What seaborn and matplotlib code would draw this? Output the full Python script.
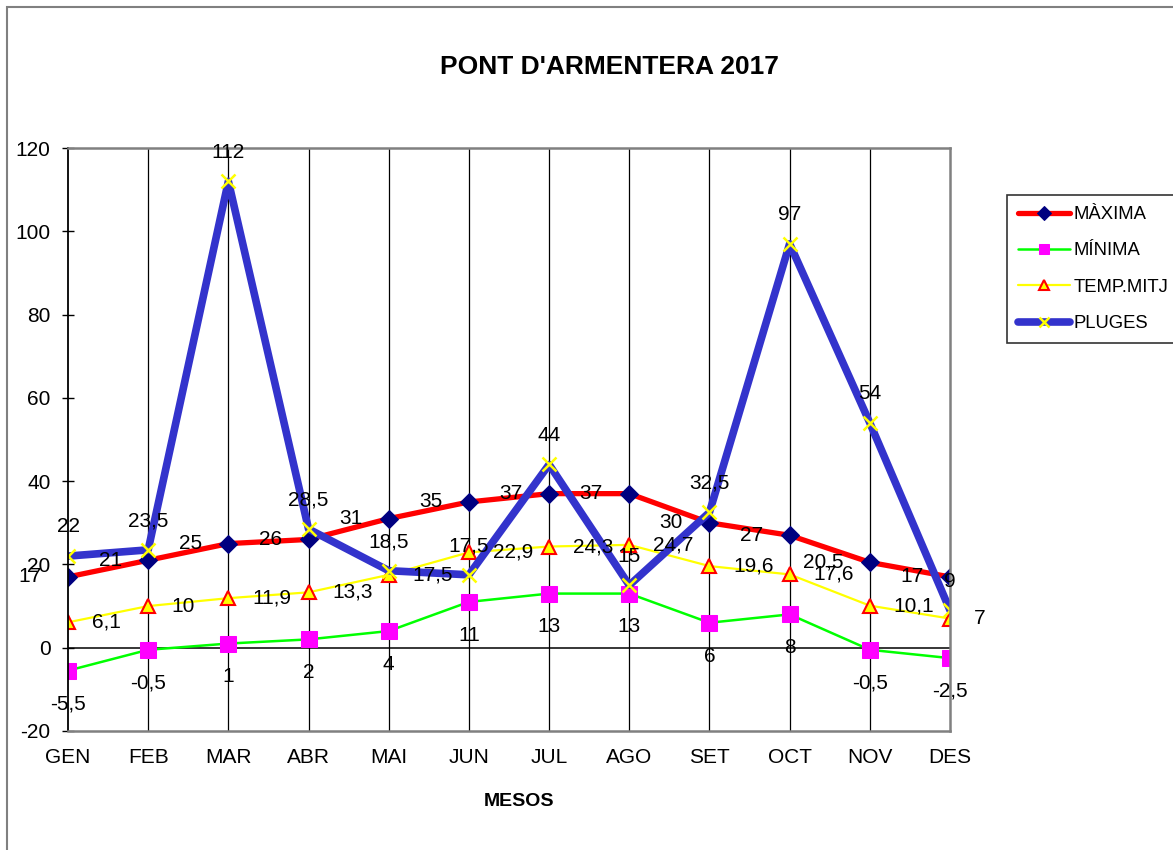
import pandas as pd
import matplotlib
matplotlib.use('Agg')
import matplotlib.pyplot as plt
import seaborn as sns
from matplotlib.patches import Rectangle

# Month labels and series values
mesos = ['GEN', 'FEB', 'MAR', 'ABR', 'MAI', 'JUN', 'JUL', 'AGO', 'SET', 'OCT', 'NOV', 'DES']
maxima = [17, 21, 25, 26, 31, 35, 37, 37, 30, 27, 20.5, 17]
minima = [-5.5, -0.5, 1, 2, 4, 11, 13, 13, 6, 8, -0.5, -2.5]
temp_mitj = [6.1, 10, 11.9, 13.3, 17.5, 22.9, 24.3, 24.7, 19.6, 17.6, 10.1, 7]
pluges = [22, 23.5, 112, 28.5, 18.5, 17.5, 44, 15, 32.5, 97, 54, 9]


def fmt(v):
    # Catalan decimal comma
    s = ('%g' % v)
    return s.replace('.', ',')


def main():
    sns.set_style('white')
    plt.rcParams['font.family'] = ['Liberation Sans', 'DejaVu Sans']
    plt.rcParams['axes.unicode_minus'] = False
    plt.rcParams['text.color'] = 'black'

    W, H = 1173, 850
    fig = plt.figure(figsize=(W / 100, H / 100), dpi=100)
    ax = fig.add_axes([68 / W, 1 - 731 / H, (950 - 68) / W, (731 - 148) / H])

    df = pd.DataFrame({'pos': range(len(mesos)), 'mes': mesos,
                       'maxima': maxima, 'minima': minima,
                       'temp': temp_mitj, 'pluges': pluges})

    # Lines
    sns.lineplot(data=df, x='pos', y='maxima', ax=ax, color='#FF0000', linewidth=3.8,
                 marker='D', markersize=9.5, markerfacecolor='#000080',
                 markeredgecolor='#000080', label='MÀXIMA')
    sns.lineplot(data=df, x='pos', y='minima', ax=ax, color='#00FF00', linewidth=1.8,
                 marker='s', markersize=11, markerfacecolor='#FF00FF',
                 markeredgecolor='#FF00FF', label='MÍNIMA')
    sns.lineplot(data=df, x='pos', y='temp', ax=ax, color='#FFFF00', linewidth=1.6,
                 marker='^', markersize=10, markerfacecolor='#FFFF00',
                 markeredgecolor='#FF0000', markeredgewidth=1.5, label='TEMP.MITJ')
    sns.lineplot(data=df, x='pos', y='pluges', ax=ax, color='#3333CC', linewidth=5.5,
                 marker='x', markersize=10, markeredgecolor='#FFFF00',
                 markeredgewidth=1.8, label='PLUGES')

    # Data labels
    lab_kw = dict(textcoords='offset points', fontsize=15, color='black', zorder=10)
    for i in df['pos']:
        ax.annotate(fmt(maxima[i]), (i, maxima[i]), xytext=(-19, 0), ha='right', va='center', **lab_kw)
        ax.annotate(fmt(minima[i]), (i, minima[i]), xytext=(0, -24), ha='center', va='center', **lab_kw)
        ax.annotate(fmt(temp_mitj[i]), (i, temp_mitj[i]), xytext=(17, 0), ha='left', va='center', **lab_kw)
        ax.annotate(fmt(pluges[i]), (i, pluges[i]), xytext=(0, 21), ha='center', va='center', **lab_kw)

    # Axes
    ax.set_xlim(0, 11)
    ax.set_ylim(-20, 120)
    ax.set_xticks(range(len(mesos)))
    ax.set_xticklabels(mesos)
    ax.set_yticks(range(-20, 121, 20))
    ax.tick_params(axis='x', length=0, pad=12.5, labelsize=15, colors='black')
    ax.tick_params(axis='y', direction='inout', length=9, width=1, pad=8,
                   labelsize=15, colors='black', left=True)
    ax.set_xlabel('')
    ax.set_ylabel('')
    ax.grid(False)
    for x in range(1, 11):
        ax.axvline(x, color='black', linewidth=0.9, zorder=0.5)
    ax.axhline(0, color='black', linewidth=1.1, zorder=0.6)

    for side in ['top', 'right', 'bottom']:
        ax.spines[side].set_color('#808080')
        ax.spines[side].set_linewidth(1.8)
    ax.spines['left'].set_color('black')
    ax.spines['left'].set_linewidth(1.3)

    ax.get_legend().remove()
    handles, labels = ax.get_legend_handles_labels()
    leg = fig.legend(handles, labels, loc='upper left',
                     bbox_to_anchor=(1007 / W, 1 - 195 / H), borderaxespad=0,
                     fontsize=13.3, frameon=True, fancybox=False, shadow=False,
                     handlelength=2.8, labelspacing=1.05, handletextpad=0.2,
                     borderpad=0.6, markerscale=0.7)
    leg.get_frame().set_edgecolor('black')
    leg.get_frame().set_linewidth(1.2)
    for t in leg.get_texts():
        t.set_color('black')

    # Title and axis title
    fig.text(609 / W, 1 - 67 / H, "PONT D'ARMENTERA 2017", ha='center', va='center',
             fontsize=19, fontweight='bold', color='black')
    fig.text(519 / W, 1 - 801 / H, 'MESOS', ha='center', va='center',
             fontsize=14, fontweight='bold', color='black')

    # Outer chart frame
    fig.patches.append(Rectangle((7 / W, -0.1), 1.2, 1 - 7 / H + 0.1, transform=fig.transFigure,
                                 fill=False, edgecolor='#808080', linewidth=1.5))

    fig.savefig('out.png', dpi=100)
    plt.close(fig)


if __name__ == '__main__':
    main()
